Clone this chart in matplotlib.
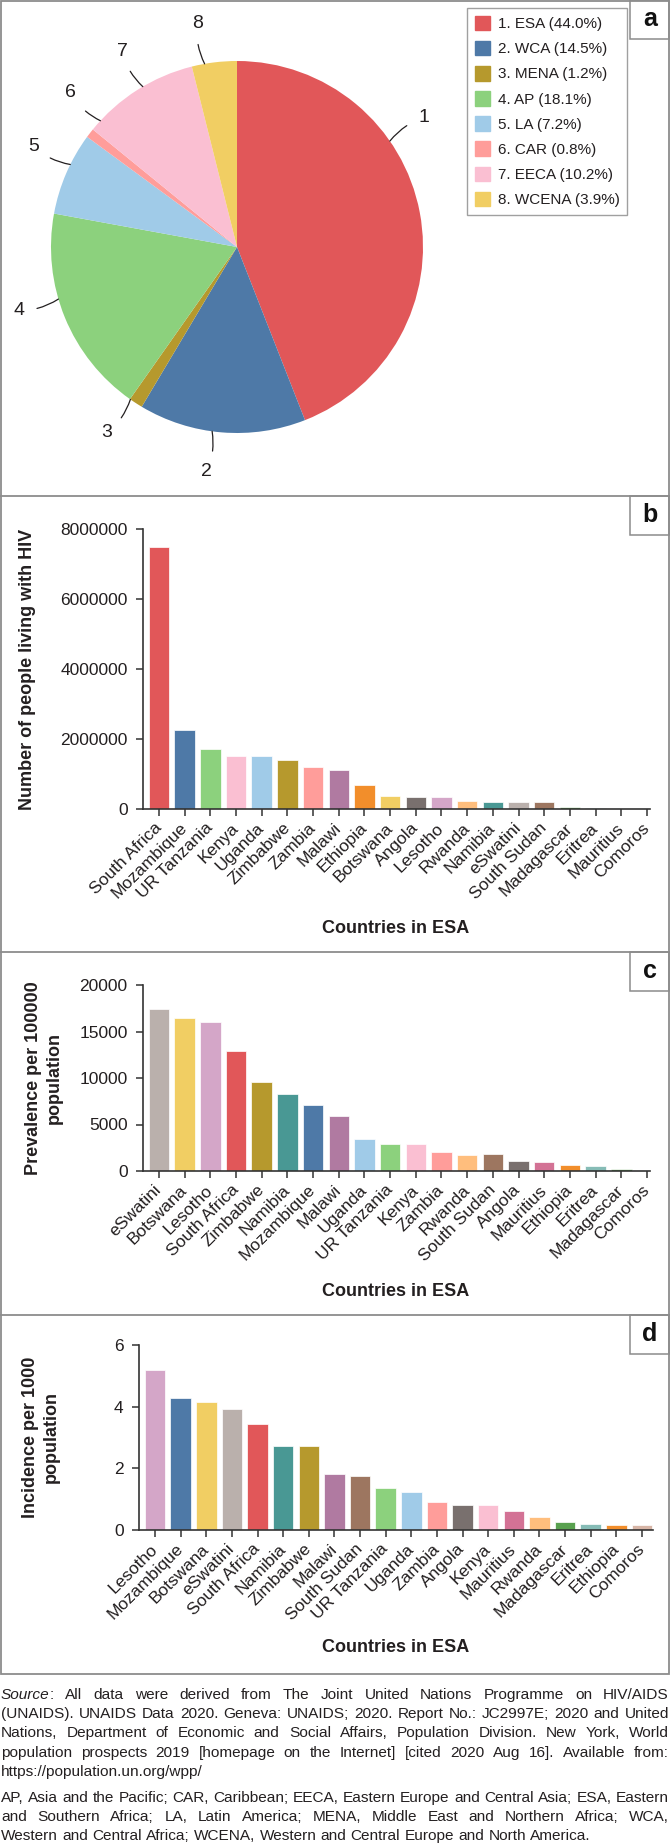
import numpy as np
import matplotlib
matplotlib.use('Agg')
import matplotlib.pyplot as plt
from matplotlib.patches import Rectangle
from matplotlib.lines import Line2D
from matplotlib.ticker import FuncFormatter

plt.rcParams['font.family'] = ['Liberation Sans', 'DejaVu Sans']

# ---- panel a: share of people living with HIV by UNAIDS region
regions = ['ESA', 'WCA', 'MENA', 'AP', 'LA', 'CAR', 'EECA', 'WCENA']
region_share = [44.0, 14.5, 1.2, 18.1, 7.2, 0.8, 10.2, 3.9]
region_colors = ['#E15759', '#4E79A7', '#B6992D', '#8CD17D',
                 '#A0CBE8', '#FF9D9A', '#FABFD2', '#F1CE63']

# ---- panel b: number of people living with HIV
plhiv_countries = ['South Africa', 'Mozambique', 'UR Tanzania', 'Kenya', 'Uganda',
                   'Zimbabwe', 'Zambia', 'Malawi', 'Ethiopia', 'Botswana', 'Angola',
                   'Lesotho', 'Rwanda', 'Namibia', 'eSwatini', 'South Sudan',
                   'Madagascar', 'Eritrea', 'Mauritius', 'Comoros']
plhiv_values = [7500000, 2250000, 1700000, 1520000, 1520000, 1390000, 1210000,
                1120000, 690000, 380000, 350000, 350000, 240000, 210000, 205000,
                200000, 58000, 15000, 13000, 200]

# ---- panel c: prevalence per 100000
prev_countries = ['eSwatini', 'Botswana', 'Lesotho', 'South Africa', 'Zimbabwe',
                  'Namibia', 'Mozambique', 'Malawi', 'Uganda', 'UR Tanzania', 'Kenya',
                  'Zambia', 'Rwanda', 'South Sudan', 'Angola', 'Mauritius',
                  'Ethiopia', 'Eritrea', 'Madagascar', 'Comoros']
prev_values = [17400, 16480, 16050, 12930, 9550, 8330, 7150, 5890, 3400, 2920,
               2920, 2040, 1750, 1780, 1040, 970, 610, 500, 215, 10]

# ---- panel d: incidence per 1000
inc_countries = ['Lesotho', 'Mozambique', 'Botswana', 'eSwatini', 'South Africa',
                 'Namibia', 'Zimbabwe', 'Malawi', 'South Sudan', 'UR Tanzania',
                 'Uganda', 'Zambia', 'Angola', 'Kenya', 'Mauritius', 'Rwanda',
                 'Madagascar', 'Eritrea', 'Ethiopia', 'Comoros']
inc_values = [5.18, 4.29, 4.16, 3.92, 3.45, 2.74, 2.74, 1.81, 1.75, 1.36, 1.24,
              0.90, 0.81, 0.81, 0.62, 0.43, 0.26, 0.19, 0.17, 0.17]

country_colors = {
    'South Africa': '#E15759', 'Mozambique': '#4E79A7', 'UR Tanzania': '#8CD17D',
    'Kenya': '#FABFD2', 'Uganda': '#A0CBE8', 'Zimbabwe': '#B6992D',
    'Zambia': '#FF9D9A', 'Malawi': '#B07AA1', 'Ethiopia': '#F28E2B',
    'Botswana': '#F1CE63', 'Angola': '#79706E', 'Lesotho': '#D4A6C8',
    'Rwanda': '#FFBE7D', 'Namibia': '#499894', 'eSwatini': '#BAB0AC',
    'South Sudan': '#9D7660', 'Madagascar': '#59A14F', 'Eritrea': '#86BCB6',
    'Mauritius': '#D37295', 'Comoros': '#D7B5A6'}

source_lines = [
    "Source: All data were derived from The Joint United Nations Programme on HIV/AIDS",
    "(UNAIDS). UNAIDS Data 2020. Geneva: UNAIDS; 2020. Report No.: JC2997E; 2020 and United",
    "Nations, Department of Economic and Social Affairs, Population Division. New York, World",
    "population prospects 2019 [homepage on the Internet] [cited 2020 Aug 16]. Available from:",
    "https://population.un.org/wpp/"]
abbrev_lines = [
    "AP, Asia and the Pacific; CAR, Caribbean; EECA, Eastern Europe and Central Asia; ESA, Eastern",
    "and Southern Africa; LA, Latin America; MENA, Middle East and Northern Africa; WCA,",
    "Western and Central Africa; WCENA, Western and Central Europe and North America."]

W, H = 670, 1847
fig = plt.figure(figsize=(W / 100, H / 100), dpi=100)


def fx(x):
    return x / W


def fy(y):
    return 1 - y / H


AXC = '#333333'
TXT = '#231f20'
FRAME = '#8c8c8c'

# ---------------- panel a
cx, cy, rad = 237, 247, 186
ax_pie = fig.add_axes([0, fy(496), 1, 496 / H])
wedges, _ = ax_pie.pie(region_share, colors=region_colors, startangle=90,
                       counterclock=False, radius=1,
                       wedgeprops=dict(linewidth=0))
ax_pie.set_aspect('auto')
ax_pie.set_xlim(-cx / rad, (W - cx) / rad)
ax_pie.set_ylim(-(496 - cy) / rad, cy / rad)
ax_pie.axis('off')

label_shift = [24, -3, -2, -6, -3, -5, -2, 3]
for i, w in enumerate(wedges):
    ang = np.deg2rad((w.theta1 + w.theta2) / 2 + label_shift[i])
    p0 = (1.0 * np.cos(ang), 1.0 * np.sin(ang))
    p1 = (1.22 * np.cos(ang), 1.22 * np.sin(ang))
    ax_pie.annotate(str(i + 1), xy=p0, xytext=p1, ha='center', va='center',
                    fontsize=14, color=TXT,
                    arrowprops=dict(arrowstyle='-', color=TXT, lw=0.9,
                                    shrinkA=7, shrinkB=0,
                                    connectionstyle='arc3,rad=0.15'))

handles = [Rectangle((0, 0), 1, 1, color=c) for c in region_colors]
labels = [f'{i + 1}. {r} ({s:.1f}%)' for i, (r, s) in enumerate(zip(regions, region_share))]
leg = fig.legend(handles, labels, loc='upper left', bbox_to_anchor=(fx(467), fy(8)),
                 frameon=True, fancybox=False, edgecolor='#888888', fontsize=11,
                 handlelength=1.0, handleheight=1.1, handletextpad=0.5,
                 labelspacing=0.63, borderpad=0.5, borderaxespad=0)
leg.get_frame().set_linewidth(1.0)
for t in leg.get_texts():
    t.set_color(TXT)


# ---------------- bar panels
def bar_panel(left, right, top, bottom, countries, values, ymax, yticks, xright):
    ax = fig.add_axes([fx(left), fy(bottom), (right - left) / W, (bottom - top) / H])
    x = np.arange(len(countries))
    ax.bar(x, values, width=0.8, color=[country_colors[c] for c in countries],
           edgecolor='white', linewidth=0.5)
    ax.set_xlim(-0.625, xright)
    ax.set_ylim(0, ymax)
    ax.set_yticks(yticks)
    ax.yaxis.set_major_formatter(FuncFormatter(lambda v, p: f'{v:.0f}'))
    ax.set_xticks(x)
    ax.set_xticklabels(countries, rotation=45, ha='right', va='center',
                       rotation_mode='anchor')
    for s in ['top', 'right']:
        ax.spines[s].set_visible(False)
    for s in ['left', 'bottom']:
        ax.spines[s].set_color(AXC)
        ax.spines[s].set_linewidth(1.2)
    ax.tick_params(length=5, width=1.1, color=AXC, labelsize=12.5,
                   labelcolor=TXT)
    ax.tick_params(axis='x', pad=7)
    ax.tick_params(axis='y', pad=6)
    return ax


bar_panel(143, 650, 529, 809, plhiv_countries, plhiv_values, 8000000,
          [0, 2000000, 4000000, 6000000, 8000000], 19.12)
bar_panel(143, 650, 985, 1171, prev_countries, prev_values, 20000,
          [0, 5000, 10000, 15000, 20000], 19.12)
bar_panel(139, 653, 1345, 1530, inc_countries, inc_values, 6,
          [0, 2, 4, 6], 19.43)

ylab = dict(fontsize=13, fontweight='bold', rotation=90, ha='center', va='center',
            color=TXT, linespacing=1.3)
fig.text(fx(28), fy(669), 'Number of people living with HIV', **ylab)
fig.text(fx(44), fy(1078), 'Prevalence per 100000\npopulation', **ylab)
fig.text(fx(41), fy(1437), 'Incidence per 1000\npopulation', **ylab)

xlab = dict(fontsize=13, fontweight='bold', ha='center', va='center', color=TXT)
fig.text(fx(396), fy(928), 'Countries in ESA', **xlab)
fig.text(fx(396), fy(1291), 'Countries in ESA', **xlab)
fig.text(fx(396), fy(1647), 'Countries in ESA', **xlab)

# ---------------- frames and panel letters
bottom_edge = 1674
fig.add_artist(Rectangle((fx(0.8), fy(bottom_edge)), (W - 1.6) / W, (bottom_edge - 0.8) / H,
                         transform=fig.transFigure, fill=False, ec=FRAME, lw=1.3))
for sep in [496, 952, 1315]:
    fig.add_artist(Line2D([0, 1], [fy(sep), fy(sep)], transform=fig.transFigure,
                          color=FRAME, lw=1.3))
for top, letter in zip([0, 496, 952, 1315], 'abcd'):
    fig.add_artist(Rectangle((fx(630), fy(top + 39)), (W - 0.8 - 630) / W, 39 / H,
                             transform=fig.transFigure, fill=False, ec=FRAME, lw=1.1))
    fig.text(fx(650), fy(top + 19), letter, fontsize=18, fontweight='bold',
             ha='center', va='center', color='#111111')

# ---------------- justified footnote
renderer = fig.canvas.get_renderer()


def text_width(s, size, style='normal'):
    t = fig.text(0, 0, s, fontsize=size, style=style)
    wd = t.get_window_extent(renderer).width
    t.remove()
    return wd


all_just = source_lines[:-1] + abbrev_lines[:-1]
fsize = min(10 * 667 / text_width(l, 10) for l in all_just)
fsize = min(fsize, 11.5)


def draw_line(y, line, justify):
    words = line.split(' ')
    widths = [text_width(w, fsize) for w in words]
    natural = text_width('a a', fsize) - text_width('aa', fsize)
    gap = (668 - sum(widths)) / (len(words) - 1) if justify else natural
    xpos = 1
    for w, wd in zip(words, widths):
        if w.startswith('Source'):
            fig.text(fx(xpos), fy(y), 'Source', fontsize=fsize, style='italic',
                     va='center', ha='left', color=TXT)
            iw = text_width('Source', fsize, 'italic')
            fig.text(fx(xpos + iw), fy(y), w[6:], fontsize=fsize,
                     va='center', ha='left', color=TXT)
        else:
            fig.text(fx(xpos), fy(y), w, fontsize=fsize, va='center', ha='left',
                     color=TXT)
        xpos += wd + gap


for i, line in enumerate(source_lines):
    draw_line(1695 + 19.2 * i, line, i < len(source_lines) - 1)
for i, line in enumerate(abbrev_lines):
    draw_line(1798 + 19.2 * i, line, i < len(abbrev_lines) - 1)

fig.savefig('out.png', dpi=100)
